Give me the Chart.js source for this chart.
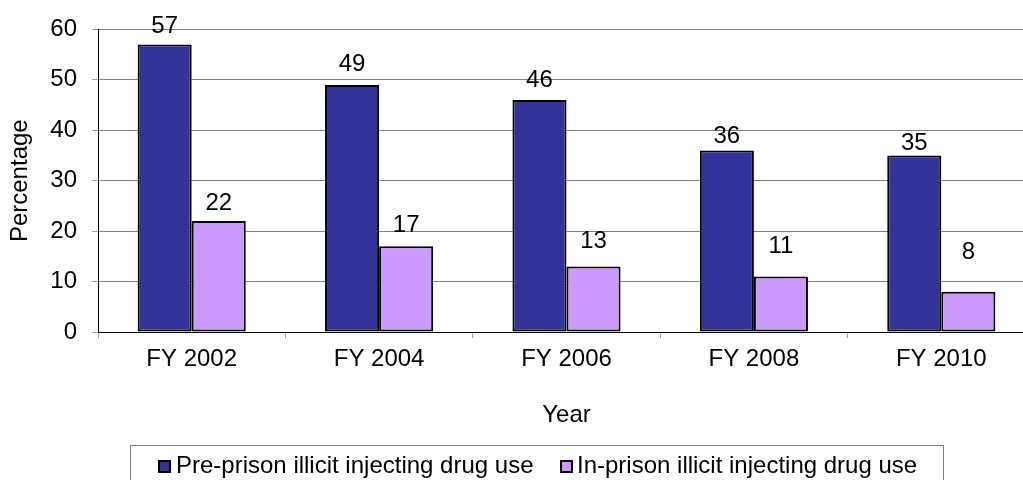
<!DOCTYPE html>
<html>
<head>
<meta charset="utf-8">
<script src="https://cdn.jsdelivr.net/npm/chart.js@4"></script>
<style>
    html, body { margin: 0; padding: 0; background: #fff; overflow: hidden; }
    #wrap { position: relative; width: 1023px; height: 480px; overflow: hidden; }
    #chart { position: absolute; left: 0; top: 0; }
    #legend {
        position: absolute; left: 130px; top: 445px; width: 814px; height: 45px;
        border: 1px solid #808080; box-sizing: border-box;
        font-family: "Liberation Sans", Arial, sans-serif; font-size: 24px; color: #000;
    }
    #legend .txt { position: absolute; top: 5px; white-space: nowrap; line-height: 28px; }
    #legend .box {
        position: absolute; top: 14px; width: 9px; height: 9px; border: 2px solid #000;
    }
</style>
</head>
<body>
<div id="wrap">
    <canvas id="chart" width="1040" height="480"></canvas>
    <div id="legend">
        <span class="box" style="left:27px;background:#333399"></span>
        <span class="txt" style="left:45px">Pre-prison illicit injecting drug use</span>
        <span class="box" style="left:429px;background:#CC99FF"></span>
        <span class="txt" style="left:446px">In-prison illicit injecting drug use</span>
    </div>
</div>
<script>
// données
const years = ['FY 2002', 'FY 2004', 'FY 2006', 'FY 2008', 'FY 2010'];
const preprison = [57, 49, 46, 36, 35];
const inprison = [22, 17, 13, 11, 8];
const yTicks = [0, 10, 20, 30, 40, 50, 60];

// décalage des étiquettes au-dessus des barres (en px), comme dans l'original
const liftPre = [18, 21, 20, 14, 12];
const liftIn = [18, 21, 25, 30, 39];

const FONT = '"Liberation Sans", Arial, sans-serif';
const SIZE = 24;

// étiquettes de valeurs au-dessus des barres
const valueLabels = {
    id: 'valueLabels',
    afterDatasetsDraw(chart) {
        const ctx = chart.ctx;
        ctx.save();
        ctx.font = SIZE + 'px ' + FONT;
        ctx.fillStyle = '#000';
        ctx.textAlign = 'center';
        ctx.textBaseline = 'middle';
        const lifts = [liftPre, liftIn];
        chart.data.datasets.forEach((ds, i) => {
            chart.getDatasetMeta(i).data.forEach((bar, j) => {
                ctx.fillText(String(ds.data[j]), bar.x, bar.y - lifts[i][j]);
            });
        });
        ctx.restore();
    }
};

new Chart(document.getElementById('chart'), {
    type: 'bar',
    data: {
        labels: years,
        datasets: [
            {
                label: 'Pre-prison illicit injecting drug use',
                data: preprison,
                backgroundColor: '#333399',
                borderColor: '#000',
                borderWidth: 2,
                borderSkipped: false
            },
            {
                label: 'In-prison illicit injecting drug use',
                data: inprison,
                backgroundColor: '#CC99FF',
                borderColor: '#000',
                borderWidth: 2,
                borderSkipped: false
            }
        ]
    },
    options: {
        responsive: false,
        animation: false,
        layout: { padding: { top: 28, right: 5, bottom: 40, left: 0 } },
        datasets: { bar: { categoryPercentage: 0.577, barPercentage: 1 } },
        plugins: {
            legend: { display: false },
            tooltip: { enabled: false }
        },
        scales: {
            x: {
                afterFit: (s) => { s.height = 108; },
                grid: {
                    drawOnChartArea: false,
                    drawTicks: true,
                    tickLength: 6,
                    tickColor: '#a0a0a0'
                },
                border: { color: '#000', width: 1 },
                ticks: { color: '#000', padding: 7, font: { family: FONT, size: SIZE } },
                title: {
                    display: true,
                    text: 'Year',
                    color: '#000',
                    font: { family: FONT, size: SIZE },
                    padding: { top: 0, bottom: 10 }
                }
            },
            y: {
                min: 0,
                max: 60,
                afterFit: (s) => { s.width = 98; },
                afterBuildTicks: (s) => { s.ticks = yTicks.map(v => ({ value: v })); },
                grid: {
                    color: '#808080',
                    lineWidth: 1,
                    borderDash: [2, 1],
                    drawTicks: true,
                    tickLength: 6,
                    tickColor: '#a0a0a0',
                    tickBorderDash: []
                },
                border: { color: '#000', width: 1 },
                ticks: { color: '#000', padding: 15, font: { family: FONT, size: SIZE } },
                title: {
                    display: true,
                    text: 'Percentage',
                    color: '#000',
                    font: { family: FONT, size: SIZE },
                    padding: { top: 6, bottom: 0 }
                }
            }
        }
    },
    plugins: [valueLabels]
});
</script>
</body>
</html>
